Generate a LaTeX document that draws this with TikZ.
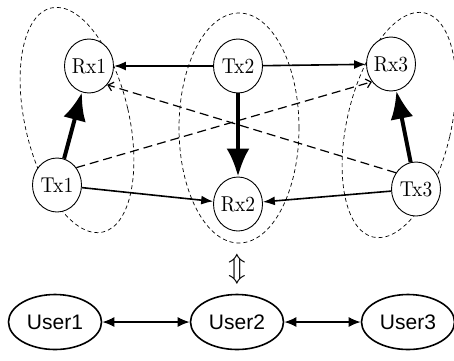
\documentclass[tikz,border=0pt]{standalone}
\usepackage{fontspec}
\newfontfamily\usersf{Liberation Sans}
\usetikzlibrary{shapes.geometric,arrows.meta}
\newcommand{\radiotext}[1]{\scalebox{1.95}[2.15]{#1}}
\begin{document}
\begin{tikzpicture}[x=1pt,y=-1pt,
  radio/.style={ellipse,draw,line width=0.9pt,fill=white,minimum width=49pt,minimum height=54pt,inner sep=0pt},
  user/.style={ellipse,draw,line width=1.6pt,fill=white,minimum width=93pt,minimum height=55pt,inner sep=0pt,font=\usersf\fontsize{21}{21}\selectfont},
  group/.style={draw,line width=0.7pt,dash pattern=on 4pt off 3pt},
  link/.style={line width=1.6pt,-{Latex[length=12pt,width=9pt]}},
  strong/.style={line width=4pt,-{Latex[length=28pt,width=23pt]}},
  cross/.style={line width=1.2pt,dash pattern=on 9pt off 5pt,-{Straight Barb[length=5pt,width=9pt]}},
  both/.style={line width=1.6pt,{Latex[length=12pt,width=10pt]}-{Latex[length=12pt,width=10pt]}}]
\useasboundingbox (0,0) rectangle (454,360);
% groups
\draw[group,rotate around={13:(77,120)}] (77,120) ellipse [x radius=52pt,y radius=115pt];
\draw[group] (239,128) ellipse [x radius=60pt,y radius=115pt];
\draw[group,rotate around={-13:(399,125)}] (399,125) ellipse [x radius=52pt,y radius=115pt];
% nodes
\node[radio] (rx1) at (89,66) {\radiotext{Rx1}};
\node[radio] (tx1) at (57,185) {\radiotext{Tx1}};
\node[radio] (tx2) at (238,66) {\radiotext{Tx2}};
\node[radio] (rx2) at (238,204) {\radiotext{Rx2}};
\node[radio] (rx3) at (391,64) {\radiotext{Rx3}};
\node[radio] (tx3) at (416,189) {\radiotext{Tx3}};
% links
\draw[link] (tx2) -- (rx1);
\draw[link] (tx2) -- (rx3);
\draw[link] (tx1) -- (rx2);
\draw[link] (tx3) -- (rx2);
\draw[strong] (tx1) -- (rx1);
\draw[strong] (tx2) -- (rx2);
\draw[strong] (tx3) -- (rx3);
\draw[cross] (tx1.42) -- (rx3.223);
\draw[cross] (tx3.141) -- (rx1.314);
% equivalence
\node (eq) at (237,269) {\scalebox{2.9}{$\Updownarrow$}};
% users
\node[user] (u1) at (55,322) {User1};
\node[user] (u2) at (237,322) {User2};
\node[user] (u3) at (408,322) {User3};
\draw[both] (u1) -- (u2);
\draw[both] (u2) -- (u3);
\end{tikzpicture}
\end{document}
